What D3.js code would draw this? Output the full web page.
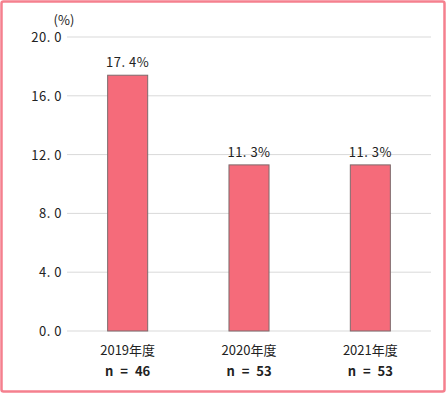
<!doctype html>
<html lang="ja">
<head>
<meta charset="utf-8">
<script src="https://d3js.org/d3.v7.min.js"></script>
<style>
  body { margin: 0; background: #fff; }
  svg text { font-family: "Noto Sans CJK JP", sans-serif; fill: #222; }
</style>
</head>
<body>
<svg width="447" height="394"></svg>
<script>
var categories = ["2019年度", "2020年度", "2021年度"];
var counts = ["n = 46", "n = 53", "n = 53"];
var values = [17.4, 11.3, 11.3];
var yTicks = [0, 4, 8, 12, 16, 20];

var svg = d3.select("svg");
var plotLeft = 67, plotRight = 431, plotTop = 37, plotBottom = 331;

// outer frame
svg.append("rect").attr("x", 1.5).attr("y", 1.5).attr("width", 443).attr("height", 390)
  .attr("rx", 2).attr("fill", "none").attr("stroke", "#f5808e").attr("stroke-width", 2.5);

var x = d3.scaleBand().domain(categories).range([plotLeft, plotRight]).paddingInner(0.67).paddingOuter(0.335);
var y = d3.scaleLinear().domain([0, 20]).range([plotBottom, plotTop]);

// grid
svg.append("g").selectAll("line").data(yTicks).enter().append("line")
  .attr("x1", plotLeft).attr("x2", plotRight)
  .attr("y1", function(d) { return y(d); }).attr("y2", function(d) { return y(d); })
  .attr("stroke", "#d9d9d9").attr("stroke-width", 1);

// y labels
svg.append("g").selectAll("text").data(yTicks).enter().append("text")
  .attr("x", 62).attr("y", function(d) { return y(d) + 5; })
  .attr("text-anchor", "end").attr("font-size", 13).style("letter-spacing", "0.5px")
  .text(function(d) { return d.toFixed(1).replace(".", ". "); });

svg.append("text").attr("x", 64).attr("y", 25).attr("text-anchor", "middle")
  .attr("font-size", 13).text("(%)");

// bars
svg.append("g").selectAll("rect").data(values).enter().append("rect")
  .attr("x", function(d, i) { return x(categories[i]); })
  .attr("y", function(d) { return y(d); })
  .attr("width", x.bandwidth())
  .attr("height", function(d) { return y(0) - y(d); })
  .attr("fill", "#f56b7a").attr("stroke", "#7d6a6c").attr("stroke-width", 1);

// value labels
svg.append("g").selectAll("text").data(values).enter().append("text")
  .attr("x", function(d, i) { return x(categories[i]) + x.bandwidth() / 2; })
  .attr("y", function(d) { return y(d) - 8; })
  .attr("text-anchor", "middle").attr("font-size", 13).style("letter-spacing", "0.5px")
  .text(function(d) { return d.toFixed(1).replace(".", ". ") + "%"; });

// category labels
svg.append("g").selectAll("text").data(categories).enter().append("text")
  .attr("x", function(d) { return x(d) + x.bandwidth() / 2; })
  .attr("y", 355).attr("text-anchor", "middle").attr("font-size", 13)
  .text(function(d) { return d; });

svg.append("g").selectAll("text").data(counts).enter().append("text")
  .attr("x", function(d, i) { return x(categories[i]) + x.bandwidth() / 2; })
  .attr("y", 376).attr("text-anchor", "middle").attr("font-size", 13).attr("font-weight", "bold")
  .style("word-spacing", "4px")
  .text(function(d) { return d; });
</script>
</body>
</html>
